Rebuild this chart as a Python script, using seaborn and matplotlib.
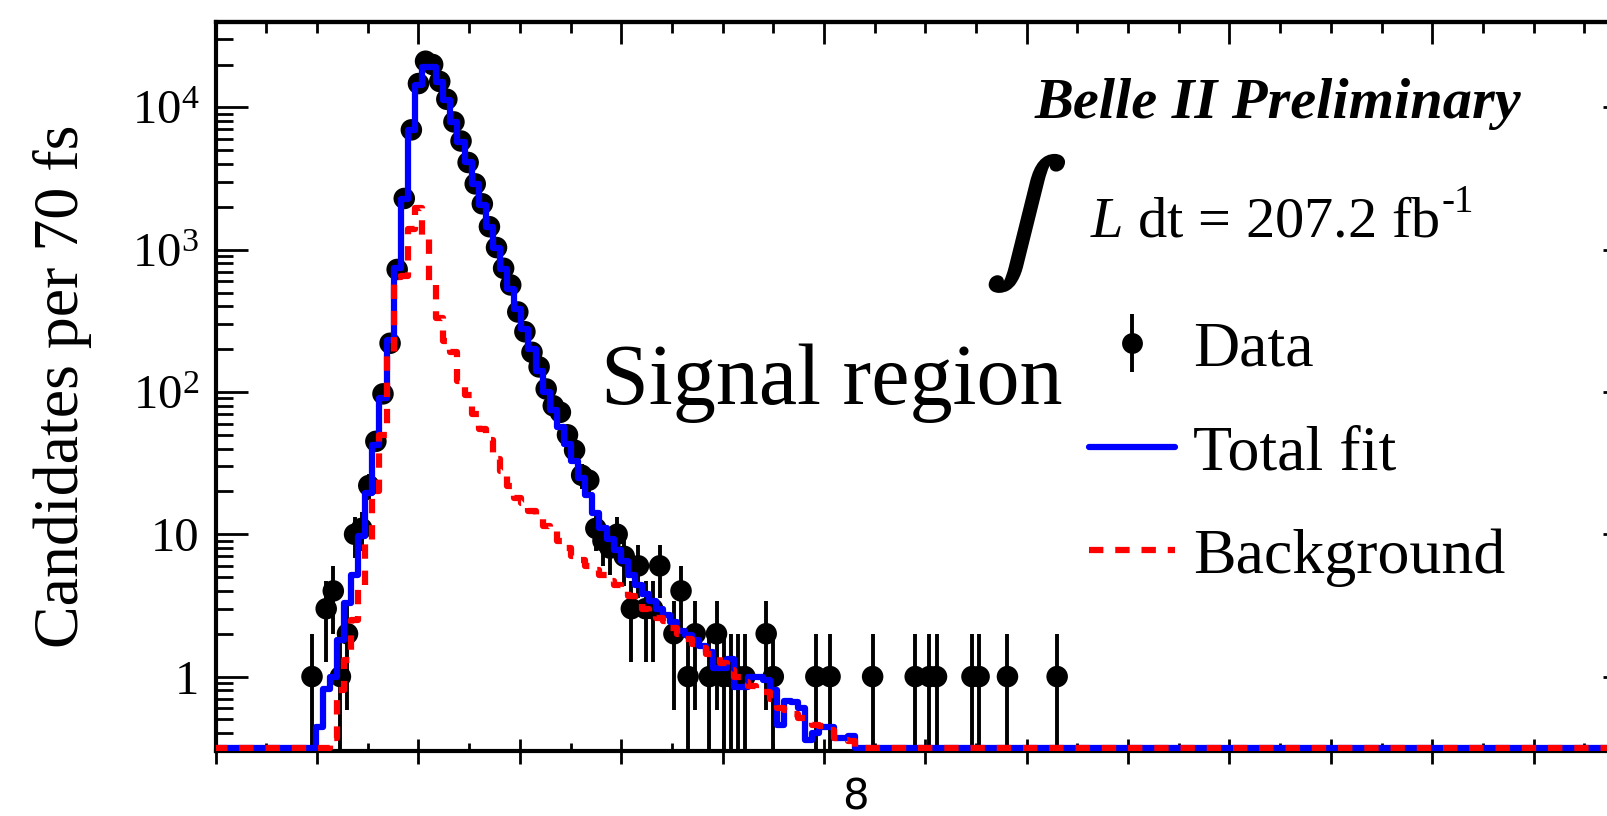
import numpy as np
import pandas as pd
import matplotlib
matplotlib.use("Agg")
import matplotlib.pyplot as plt
import matplotlib.patheffects as pe
import seaborn as sns
from matplotlib.ticker import MultipleLocator, LogLocator, FixedLocator, FixedFormatter, NullFormatter
from matplotlib.lines import Line2D
from matplotlib.legend_handler import HandlerTuple

# ---------------- data ----------------
BIN_WIDTH_PS = 0.07  # 70 fs bins; bin k is centred at k * 0.07 ps

data_bin = [-15, -13, -12, -11, -10, -9, -8, -7, -6, -5, -4, -3, -2, -1, 0,
            1, 2, 3, 4, 5, 6, 7, 8, 9, 10, 11, 12, 13, 14, 15, 16, 17, 18, 19,
            20, 21, 22, 23, 24, 25, 26, 27, 28, 29, 30, 31, 32, 33, 34, 36, 37,
            38, 39, 41, 42, 43, 44, 45, 46, 49, 50, 56, 58, 64, 70, 72, 73, 78,
            79, 83, 90]
data_counts = [1, 3, 4, 1, 2, 10, 11, 22, 45, 97, 220, 726, 2290, 6950, 14700,
               21100, 20000, 15200, 11400, 7900, 5800, 4100, 2900, 2100, 1450,
               1035, 740, 565, 365, 265, 190, 150, 105, 80,
               72, 50, 39, 26, 24, 11, 9, 8, 10, 7, 3, 6, 3, 3, 6, 2, 4,
               1, 2, 1, 2, 1, 1, 1, 1, 2, 1, 1, 1, 1, 1, 1, 1, 1,
               1, 1, 1]

fit_first_bin = -14
total_fit = [0.44, 0.82, 1.0, 1.8, 3.3, 5.2, 9.7, 19.4, 42.5, 90, 232, 740,
             2280, 6900, 14300, 19300, 19300, 15000, 11200, 7900, 5700, 4100,
             2900, 2050, 1450, 1020, 730, 530, 380, 275, 200, 140, 100, 75,
             57, 43, 33, 25, 19, 14, 11, 9.3, 7.8, 6.5, 5.2, 4.4, 3.8, 3.4,
             3.0, 2.7, 2.4, 2.1, 1.95, 1.8, 1.65, 1.5, 1.15, 1.15, 1.33, 0.85,
             0.85, 1.0, 1.0, 0.95, 0.8, 0.46, 0.67, 0.66, 0.6, 0.36, 0.4, 0.44,
             0.44, 0.37, 0.37, 0.38]

bkg_first_bin = -12
background = [0.37, 0.8, 1.3, 2.5, 4.1, 8.7, 20, 50, 180, 640, 650, 1400,
              1950, 1250, 580, 330, 230, 190, 120, 95, 70, 55, 46, 34, 28, 22,
              18, 16.5, 14.5, 13, 11.5, 10.5, 9, 8, 7, 6.6, 6, 5.6, 5.2, 4.7,
              4.4, 4.0, 3.7, 3.3, 3.0, 2.8, 2.6, 2.45, 2.2, 2.0, 1.85, 1.7,
              1.6, 1.45, 1.37, 1.25, 1.12, 1.0, 0.92, 0.86, 0.8, 0.78, 0.7,
              0.6, 0.58, 0.55, 0.51, 0.48, 0.46, 0.45, 0.42, 0.37, 0.36, 0.35]

ytick_values = [1, 10, 100, 1000, 10000]
ytick_labels = ["1", "10", r"$10^{2}$", r"$10^{3}$", r"$10^{4}$"]
y_label = "Candidates per 70 fs"
legend_labels = ["Data", "Total fit", "Background"]
x_label_text = "8"

# ---------------- style ----------------
sns.set_theme(style="ticks")
plt.rcParams["font.family"] = ["Liberation Serif", "DejaVu Serif"]
plt.rcParams["mathtext.fontset"] = "custom"
plt.rcParams["mathtext.rm"] = "Liberation Serif"
plt.rcParams["mathtext.it"] = "Liberation Serif:italic"
plt.rcParams["mathtext.bf"] = "Liberation Serif:bold"
for key in ["text.color", "axes.labelcolor", "xtick.color", "ytick.color",
            "axes.edgecolor"]:
    plt.rcParams[key] = "black"

W, H = 1608, 816
fig = plt.figure(figsize=(W / 100, H / 100), dpi=100)
fig.patch.set_facecolor("white")

ax_l, ax_r, ax_t, ax_b = 215.7, 1635.0, 21.7, 751.0
ax = fig.add_axes([ax_l / W, (H - ax_b) / H, (ax_r - ax_l) / W, (ax_b - ax_t) / H])
ax.set_facecolor("white")
ax.set_yscale("log")
XMIN, XMAX, YMIN, YMAX = -2.0, 12.0, 0.3, 4.0e4
ax.set_xlim(XMIN, XMAX)
ax.set_ylim(YMIN, YMAX)

# ---------------- fit curves (seaborn) ----------------
all_bins = np.arange(-29, 173)
t_all = all_bins * BIN_WIDTH_PS
fit_full = np.zeros(len(all_bins))
i0 = int(np.where(all_bins == fit_first_bin)[0][0])
fit_full[i0:i0 + len(total_fit)] = total_fit
bkg_full = np.zeros(len(all_bins))
j0 = int(np.where(all_bins == bkg_first_bin)[0][0])
bkg_full[j0:j0 + len(background)] = background

floor = 0.315  # empty bins are drawn along the bottom of the frame
df_fit = pd.DataFrame({
    "t": t_all,
    "total": np.clip(fit_full, floor, None),
    "bkg": np.clip(bkg_full, floor, None),
})

LW = 4.5
BLUE = "#0000ff"
RED = "#ff0000"
DASH = (0, (2.3, 1.9))

# ---------------- data points ----------------
counts = np.array(data_counts, dtype=float)
t_data = np.array(data_bin) * BIN_WIDTH_PS
err = np.sqrt(counts)
low = counts - np.maximum(counts - err, 1e-2)
ax.errorbar(t_data, counts, yerr=[low, err], fmt="none", ecolor="black",
            elinewidth=2.8, capsize=0, zorder=2)
df_data = pd.DataFrame({"t": t_data, "n": counts})
sns.scatterplot(data=df_data, x="t", y="n", ax=ax, color="black", s=15.5 ** 2,
                marker="o", edgecolor="none", linewidth=0, zorder=2.2, legend=False)

sns.lineplot(data=df_fit, x="t", y="total", ax=ax, color=BLUE, linewidth=LW,
             drawstyle="steps-mid", errorbar=None, zorder=3, legend=False)
sns.lineplot(data=df_fit, x="t", y="bkg", ax=ax, color=RED, linewidth=LW,
             linestyle=DASH, drawstyle="steps-mid", errorbar=None, zorder=4,
             legend=False)

# ---------------- axes cosmetics ----------------
for s in ax.spines.values():
    s.set_linewidth(3)
    s.set_color("black")
    s.set_visible(True)

ax.set_xlabel("")
ax.set_ylabel(y_label, fontsize=46, family=["Liberation Serif"], color="black")
ax.yaxis.set_label_coords(-0.087, 0.5)

ax.yaxis.set_major_locator(FixedLocator(ytick_values))
ax.yaxis.set_major_formatter(FixedFormatter(ytick_labels))
ax.yaxis.set_minor_locator(LogLocator(base=10, subs=np.arange(2, 10)))
ax.yaxis.set_minor_formatter(NullFormatter())
ax.tick_params(axis="y", which="major", direction="in", length=23, width=2,
               left=True, right=True, labelsize=35, pad=12, color="black",
               labelcolor="black")
ax.tick_params(axis="y", which="minor", direction="in", length=12, width=2,
               left=True, right=True, color="black")

ax.xaxis.set_major_locator(MultipleLocator(1))
ax.xaxis.set_minor_locator(MultipleLocator(0.5))
ax.tick_params(axis="x", which="major", direction="inout", length=18, width=2,
               bottom=True, top=False, labelbottom=False, color="black")
ax.tick_params(axis="x", which="minor", direction="in", length=6, width=2,
               bottom=True, top=False, color="black")

sec = ax.secondary_xaxis("top")
sec.xaxis.set_major_locator(MultipleLocator(2))
sec.xaxis.set_minor_locator(MultipleLocator(0.5))
sec.tick_params(axis="x", which="major", direction="in", length=16, width=2,
                labeltop=False, color="black")
sec.tick_params(axis="x", which="minor", direction="in", length=8, width=2,
                color="black")
sec.spines["top"].set_linewidth(3)

# ---------------- legend ----------------
h_data = (Line2D([], [], color="black", marker="|", markersize=42,
                 markeredgewidth=2.8, linestyle="none"),
          Line2D([], [], color="black", marker="o", markersize=15,
                 markeredgewidth=0, linestyle="none"))
h_fit = Line2D([], [], color=BLUE, linewidth=LW)
h_bkg = Line2D([], [], color=RED, linewidth=LW, linestyle=DASH)
leg = ax.legend(handles=[h_data, h_fit, h_bkg], labels=legend_labels,
                handler_map={tuple: HandlerTuple(ndivide=1)},
                loc="upper left", bbox_to_anchor=(1089 / W, 1 - 321 / H),
                bbox_transform=fig.transFigure, frameon=False,
                prop={"family": "Liberation Serif", "size": 46},
                handlelength=1.35, handletextpad=0.28, labelspacing=0.70,
                borderpad=0, borderaxespad=0)
for txt in leg.get_texts():
    txt.set_color("black")

# ---------------- annotations ----------------
fig.text(1521 / W, 1 - 118 / H, "Belle II Preliminary", ha="right",
         va="baseline", fontsize=42, fontweight="bold", fontstyle="italic",
         family="Liberation Serif", color="black")
fig.text(1026 / W, 1 - 224 / H, r"$\int$", ha="center", va="center",
         fontsize=84, math_fontfamily="stix", color="black",
         path_effects=[pe.withStroke(linewidth=4, foreground="black")])
lumi = fig.text(1090 / W, 1 - 236 / H, r"$\mathit{L}$ dt = 207.2 fb",
                ha="left", va="baseline", fontsize=42,
                family="Liberation Serif", color="black")
fig.canvas.draw()
bb = lumi.get_window_extent(renderer=fig.canvas.get_renderer())
fig.text((bb.x1 + 2) / W, 1 - 212 / H, "-1", ha="left", va="baseline",
         fontsize=28, family="Liberation Serif", color="black")
fig.text(601 / W, 1 - 404 / H, "Signal region", ha="left", va="baseline",
         fontsize=62, family="Liberation Serif", color="black")
fig.text(855 / W, 1 - 798 / H, x_label_text, ha="center", va="center",
         fontsize=30, family="DejaVu Sans", color="black")

fig.savefig("out.png", dpi=100, facecolor="white")
